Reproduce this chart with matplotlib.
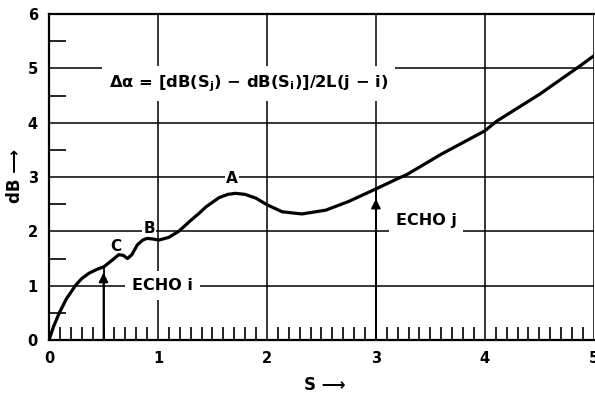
import numpy as np
import matplotlib.pyplot as plt
from matplotlib.ticker import MultipleLocator

# curve
s_vals = [0.0, 0.04, 0.092, 0.16, 0.245, 0.30, 0.367, 0.44, 0.505, 0.58, 0.64, 0.68,
          0.72, 0.76, 0.81, 0.86, 0.90, 0.95, 1.01, 1.10, 1.19, 1.30, 1.376, 1.44,
          1.56, 1.64, 1.71, 1.80, 1.90, 2.0, 2.14, 2.32, 2.54, 2.75, 3.01, 3.21,
          3.28, 3.60, 4.0, 4.11, 4.50, 4.87, 5.0]
db_vals = [0.0, 0.24, 0.49, 0.76, 1.01, 1.13, 1.23, 1.30, 1.35, 1.47, 1.57, 1.56,
           1.50, 1.57, 1.75, 1.84, 1.87, 1.86, 1.84, 1.89, 2.0, 2.20, 2.33, 2.45,
           2.62, 2.68, 2.70, 2.68, 2.61, 2.49, 2.36, 2.32, 2.39, 2.55, 2.79, 2.98,
           3.04, 3.42, 3.85, 4.03, 4.52, 5.04, 5.23]

echo_s = [0.5, 3.0]
echo_tip = [1.24, 2.6]
echo_top = [1.35, 2.79]
echo_labels = ["ECHO i", "ECHO j"]
echo_label_pos = [(1.04, 1.0), (3.46, 2.2)]

point_labels = ["A", "B", "C"]
point_pos = [(1.68, 2.97), (0.92, 2.06), (0.61, 1.72)]

x_ticks = [0, 1, 2, 3, 4, 5]
y_ticks = [0, 1, 2, 3, 4, 5, 6]

formula = r"$\mathbf{\Delta\alpha}$ = [dB(S$_\mathbf{j}$) $-$ dB(S$_\mathbf{i}$)]/2L(j $-$ i)"

plt.rcParams['font.family'] = 'DejaVu Sans'
plt.rcParams['font.weight'] = 'bold'
plt.rcParams['mathtext.fontset'] = 'dejavusans'

fig = plt.figure(figsize=(5.95, 3.96), dpi=100)
ax = fig.add_axes([0.0824, 0.1414, 0.9156, 0.8232])

ax.set_xlim(0, 5)
ax.set_ylim(0, 6)
ax.set_xticks(x_ticks)
ax.set_yticks(y_ticks)
ax.xaxis.set_minor_locator(MultipleLocator(0.1))
ax.yaxis.set_minor_locator(MultipleLocator(0.5))
ax.tick_params(which='major', length=0, labelsize=10.5, pad=8)
ax.tick_params(axis='x', which='minor', direction='in', length=9.5, width=1.2)
ax.tick_params(axis='y', which='minor', direction='in', length=12, width=1.2)
for lab in ax.get_xticklabels() + ax.get_yticklabels():
    lab.set_fontweight('bold')

ax.grid(True, which='major', color='black', linewidth=1.1)
for sp in ['left', 'top', 'bottom']:
    ax.spines[sp].set_linewidth(1.6)
ax.spines['right'].set_visible(False)

ax.plot(s_vals, db_vals, color='black', linewidth=2.3, zorder=5)

# echo markers: a line up to the curve with an arrowhead just below it
for s, tip, top in zip(echo_s, echo_tip, echo_top):
    ax.plot([s, s], [0, top], color='black', linewidth=1.3, zorder=4)
    ax.annotate("", xy=(s, tip), xytext=(s, 0),
                arrowprops=dict(arrowstyle='-|>', color='black', lw=1.3,
                                mutation_scale=14, shrinkA=0, shrinkB=0),
                zorder=4)

box = dict(facecolor='white', edgecolor='none', pad=5)
for lab, (x, y) in zip(echo_labels, echo_label_pos):
    ax.text(x, y, lab, fontsize=11.5, fontweight='bold', ha='center', va='center',
            bbox=box, zorder=3)
for lab, (x, y) in zip(point_labels, point_pos):
    ax.text(x, y, lab, fontsize=11, fontweight='bold', ha='center', va='center',
            bbox=dict(facecolor='white', edgecolor='none', pad=1), zorder=3)

ax.text(1.83, 4.72, formula, fontsize=11.8, fontweight='bold', ha='center',
        va='center', bbox=dict(facecolor='white', edgecolor='none', pad=5), zorder=3)

fig.text(0.546, 0.028, "S ⟶", fontsize=12, fontweight='bold', ha='center', va='center')
fig.text(0.026, 0.556, "dB ⟶", fontsize=12, fontweight='bold', ha='center', va='center',
         rotation=90)

fig.savefig("out.png", dpi=100)
